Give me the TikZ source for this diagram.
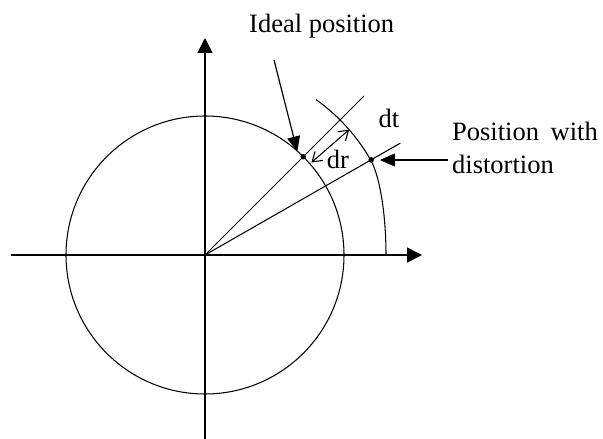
\documentclass[tikz,border=0pt]{standalone}
\usepackage{fontspec}
\setmainfont{Liberation Serif}
\usetikzlibrary{arrows.meta}
\begin{document}
\begin{tikzpicture}[x=1pt,y=1pt,
  axis/.style={line width=1.5pt,-{Triangle[length=15pt,width=15pt]}},
  thin line/.style={line width=1.05pt},
  pointer/.style={line width=1.2pt,-{Triangle[length=15pt,width=13pt]}},
  lbl/.style={font=\fontsize{26.5}{33}\selectfont,inner sep=0pt},
  dot/.style={circle,fill=black,inner sep=0pt,minimum size=5.5pt}]
\useasboundingbox (0,0) rectangle (603,439);
\coordinate (O) at (205,184);
% axes
\coordinate (xl) at (11,184);
\coordinate (xr) at (422,184);
\coordinate (yb) at (205,0);
\coordinate (yt) at (205,401);
\draw[axis] (xl) -- (xr);
\draw[axis] (yb) -- (yt);
% circle
\draw[thin line] (O) circle[radius=139];
% rays
\coordinate (idealend) at ([shift={(45:225)}]O);
\coordinate (distend) at ([shift={(29.8:225)}]O);
\draw[thin line] (O) -- (idealend);
\draw[thin line] (O) -- (distend);
% outer arc
\coordinate (arcstart) at ([shift={(54.5:191)}]O);
\coordinate (arcend) at ([shift={(181,0)}]O);
\draw[thin line] (arcstart) arc[start angle=54.5,end angle=30,radius=191]
  .. controls ++(9.6,-16.7) and ++(0,40) .. (arcend);
% points
\node[dot] (ideal) at ([shift={(45:139)}]O) {};
\node[dot] (dist) at ([shift={(29.8:191.5)}]O) {};
% dr arrow
\coordinate (dra) at ([shift={(41:141)}]O);
\coordinate (drb) at ([shift={(41:191)}]O);
\draw[thin line,{Straight Barb[length=9pt,width=12pt,line width=1.1pt]}-{Straight Barb[length=9pt,width=12pt,line width=1.1pt]}] (dra) -- (drb);
% labels
\node[lbl,anchor=base west] (idl) at (249,406) {Ideal position};
\node[lbl,anchor=base west,align=left] (pwd) at (452,298) {Position\hspace{5pt} with};
\node[lbl,anchor=base west] (pwd2) at (452,265) {distortion};
\node[lbl] (dt) at (389,321) {dt};
\node[lbl] (dr) at (338,280) {dr};
% pointers
\coordinate (idfrom) at (274,379);
\coordinate (idto) at (297.3,287.5);
\draw[pointer] (idfrom) -- (idto);
\coordinate (dsfrom) at (448,279);
\coordinate (dsto) at (380,279);
\draw[pointer] (dsfrom) -- (dsto);
\end{tikzpicture}
\end{document}
